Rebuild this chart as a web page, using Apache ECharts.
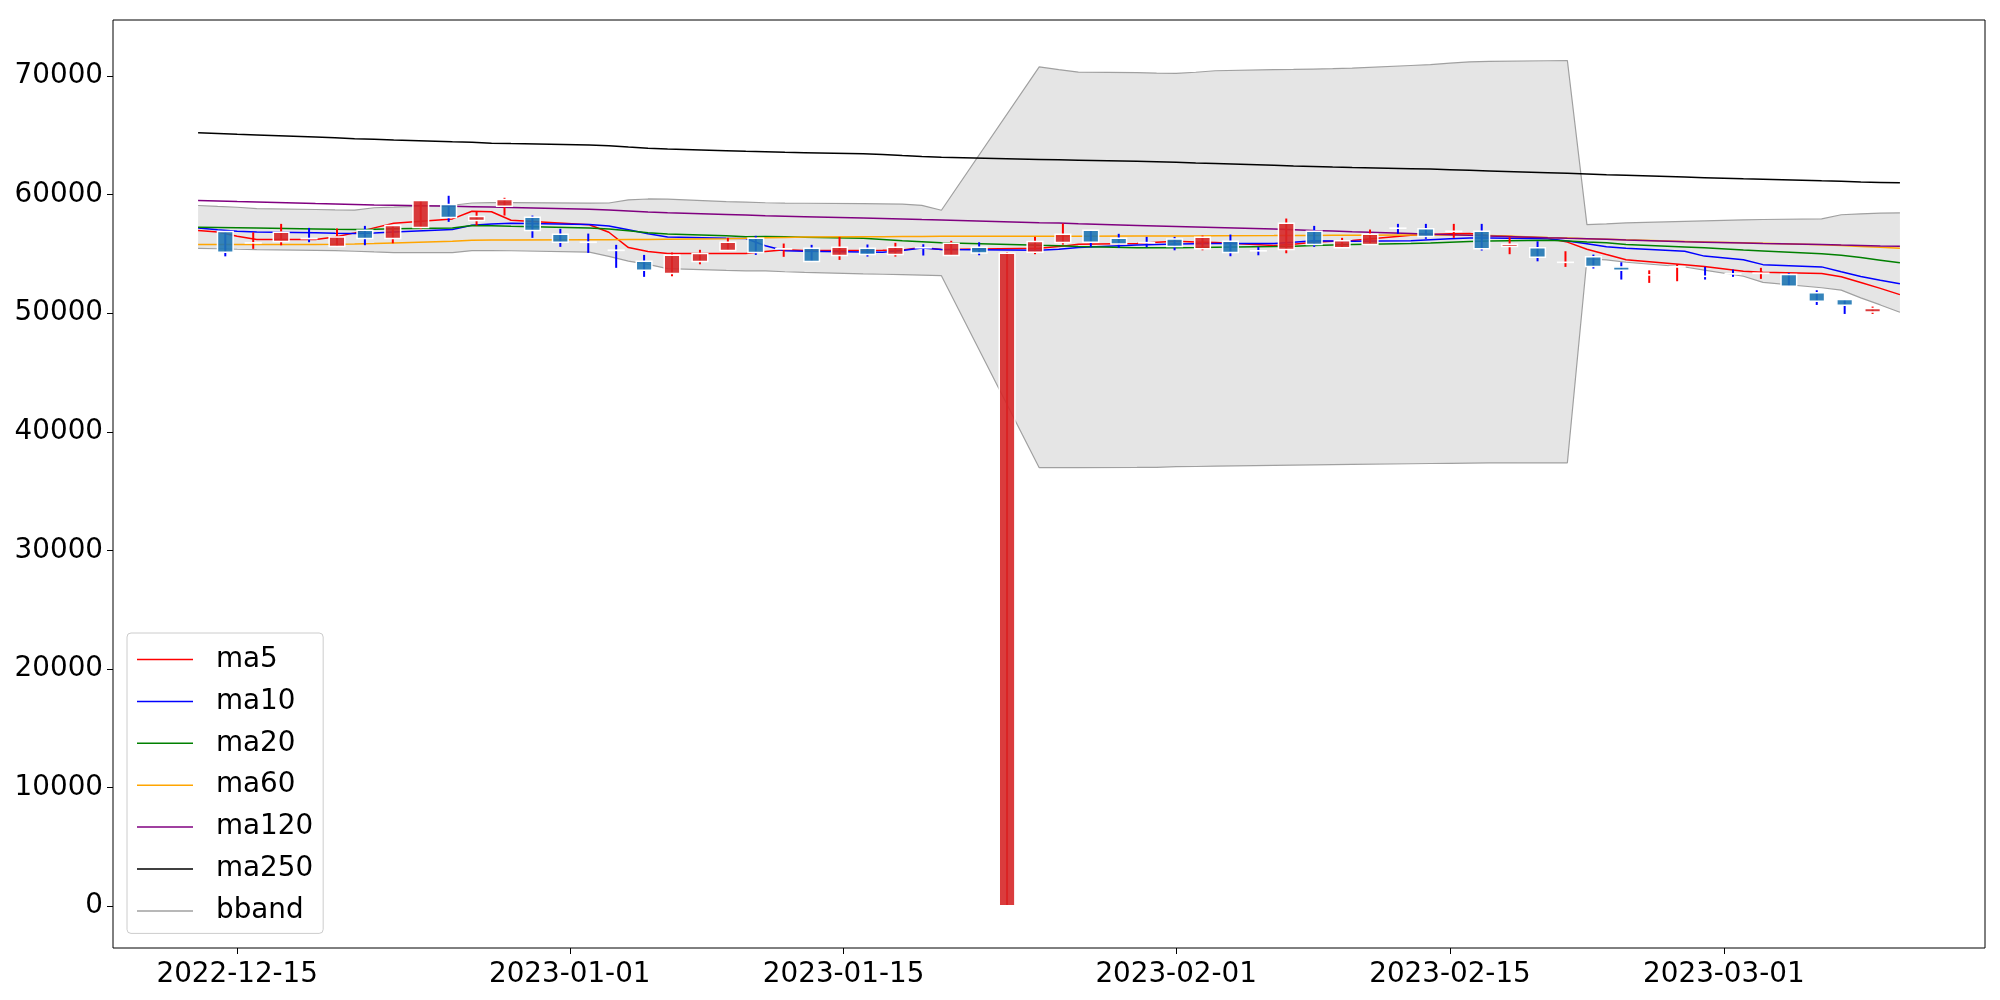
<!DOCTYPE html>
<html>
<head>
<meta charset="utf-8">
<title>candle chart</title>
<script src="https://cdn.jsdelivr.net/npm/echarts@6/dist/echarts.min.js"></script>
<style>
    html, body { margin: 0; padding: 0; background: #fff; }
    #chart { width: 2000px; height: 1000px; }
</style>
</head>
<body>
<div id="chart"></div>
<script>
    // trading days
    const dates = ['2022-12-13', '2022-12-14', '2022-12-15', '2022-12-16', '2022-12-19', '2022-12-20', '2022-12-21', '2022-12-22', '2022-12-23', '2022-12-26',
        '2022-12-27', '2022-12-28', '2022-12-29', '2023-01-02', '2023-01-03', '2023-01-04', '2023-01-05', '2023-01-06', '2023-01-09', '2023-01-10',
        '2023-01-11', '2023-01-12', '2023-01-13', '2023-01-16', '2023-01-17', '2023-01-18', '2023-01-19', '2023-01-20', '2023-01-25', '2023-01-26',
        '2023-01-27', '2023-01-30', '2023-01-31', '2023-02-01', '2023-02-02', '2023-02-03', '2023-02-06', '2023-02-07', '2023-02-08', '2023-02-09',
        '2023-02-10', '2023-02-13', '2023-02-14', '2023-02-15', '2023-02-16', '2023-02-17', '2023-02-20', '2023-02-21', '2023-02-22', '2023-02-23',
        '2023-02-24', '2023-02-27', '2023-02-28', '2023-03-02', '2023-03-03', '2023-03-06', '2023-03-07', '2023-03-08', '2023-03-09', '2023-03-10']

    // OHLC
    const opens = [56900, 55930, 56050, 56310, 55630, 57000, 56300, 57230, 59170, 57820,
        59030, 58100, 56670, 56000, 55320, 54380, 53350, 54360, 55290, 56320,
        55420, 55480, 54870, 55480, 54950, 55540, 54870, 55570, 0, 55140,
        55960, 57000, 56330, 55960, 56270, 55430, 56070, 55270, 55370, 56920,
        55520, 55790, 57180, 57120, 56910, 56920, 55630, 55520, 54290, 54760,
        53910, 53230, 53900, 53120, 53330, 53360, 53260, 51720, 51150, 50110]
    const highs = [56920, 56830, 57540, 57200, 57150, 57370, 57400, 59510, 59910, 58580,
        59740, 58240, 57120, 56720, 55770, 54920, 55120, 55350, 56360, 56530,
        55880, 55770, 56440, 55800, 55940, 55820, 56110, 55990, 55150, 56440,
        57570, 57000, 56700, 56440, 56440, 56550, 56640, 55600, 57990, 57370,
        56360, 57060, 57540, 57540, 57540, 57540, 56410, 56070, 55230, 54950,
        54300, 53620, 54130, 53910, 53680, 53830, 53400, 51940, 51150, 50560]
    const lows = [54800, 55430, 55730, 55990, 55630, 55740, 55900, 57100, 57710, 57400,
        58240, 56360, 55600, 55090, 53830, 53070, 53120, 54130, 55290, 54920,
        54760, 54360, 54500, 54780, 54780, 54870, 54870, 54890, 0, 54980,
        55790, 55600, 55520, 55570, 55310, 55310, 54810, 54890, 55060, 55600,
        55520, 55790, 56700, 56280, 56360, 55290, 54980, 54380, 53910, 53770,
        52840, 52560, 52700, 52840, 53070, 52900, 52270, 50700, 49940, 49940]
    const closes = [55140, 55940, 56830, 56290, 56440, 56300, 57400, 59510, 58070, 58160,
        59600, 56980, 55990, 55980, 55300, 53620, 54890, 55030, 55990, 55120,
        55440, 54360, 55570, 54950, 55570, 55520, 55900, 55090, 55060, 56050,
        56670, 55990, 55850, 55940, 55630, 56410, 55120, 55260, 57590, 55790,
        56110, 56670, 57170, 56470, 56920, 55430, 55820, 54720, 54300, 53940,
        53620, 53240, 53920, 53110, 53310, 53380, 52270, 51010, 50670, 50390]

    // moving averages
    const ma5 = [56990, 56860, 56500, 56220, 56220, 56430, 56780, 57200, 57600, 57960,
        58610, 58560, 57850, 57460, 56830, 55540, 55200, 55030, 55030, 55030,
        55200, 55360, 55290, 55300, 55310, 55330, 55540, 55370, 55490, 55620,
        55830, 55880, 55990, 56070, 56000, 55960, 55720, 55820, 55990, 56080,
        56130, 56580, 56650, 56700, 56720, 56560, 56330, 56000, 55400, 54950,
        54520, 54100, 53950, 53540, 53450, 53350, 53080, 52600, 52100, 51570]
    const ma10 = [57200, 57050, 56920, 56860, 56780, 56740, 56720, 56760, 56850, 57060,
        57430, 57530, 57600, 57480, 57360, 57050, 56700, 56440, 56330, 56300,
        55700, 55280, 55220, 55160, 55140, 55300, 55510, 55380, 55310, 55400,
        55550, 55750, 55800, 55840, 55860, 55880, 55880, 55990, 56120, 56100,
        56080, 56120, 56200, 56280, 56350, 56340, 56280, 56100, 55870, 55600,
        55480, 55230, 54820, 54520, 54100, 53910, 53500, 53100, 52780, 52480]
    const ma20 = [57260, 57240, 57220, 57200, 57110, 57080, 57060, 57080, 57120, 57200,
        57400, 57380, 57340, 57200, 57100, 56950, 56790, 56680, 56540, 56460,
        56480, 56450, 56420, 56320, 56220, 56110, 56030, 55950, 55740, 55700,
        55640, 55520, 55520, 55530, 55540, 55560, 55620, 55660, 55710, 55750,
        55790, 55880, 55930, 55990, 56050, 56090, 56160, 56100, 56020, 55950,
        55800, 55590, 55520, 55340, 55260, 55010, 54900, 54700, 54480, 54250]
    const ma60 = [55790, 55790, 55790, 55790, 55800, 55810, 55840, 55880, 55930, 56080,
        56150, 56170, 56180, 56200, 56210, 56220, 56230, 56250, 56290, 56320,
        56360, 56400, 56430, 56450, 56460, 56470, 56480, 56490, 56500, 56500,
        56500, 56510, 56510, 56520, 56520, 56530, 56550, 56560, 56560, 56570,
        56580, 56600, 56600, 56600, 56590, 56560, 56380, 56340, 56290, 56240,
        56190, 56060, 56020, 55940, 55900, 55780, 55710, 55640, 55560, 55480]
    const ma120 = [59510, 59470, 59420, 59380, 59250, 59210, 59170, 59130, 59110, 59020,
        58990, 58960, 58920, 58770, 58700, 58620, 58540, 58480, 58330, 58280,
        58230, 58190, 58150, 58030, 57990, 57950, 57900, 57860, 57630, 57610,
        57540, 57400, 57360, 57320, 57280, 57230, 57100, 57050, 56990, 56940,
        56880, 56720, 56670, 56620, 56570, 56520, 56360, 56320, 56290, 56250,
        56180, 56030, 55990, 55920, 55880, 55790, 55750, 55720, 55680, 55650]
    const ma250 = [65230, 65170, 65100, 65040, 64860, 64800, 64730, 64680, 64620, 64470,
        64430, 64350, 64310, 64190, 64130, 64020, 63920, 63850, 63710, 63660,
        63620, 63580, 63550, 63460, 63400, 63310, 63230, 63160, 62975, 62940,
        62910, 62820, 62780, 62740, 62680, 62630, 62490, 62430, 62390, 62340,
        62300, 62200, 62160, 62110, 62060, 62010, 61860, 61810, 61750, 61690,
        61640, 61490, 61440, 61340, 61300, 61170, 61130, 61080, 61040, 61000]

    // bollinger band
    const bbUpper = [59090, 59010, 58940, 58820, 58750, 58720, 58700, 58900, 58950, 59110,
        59300, 59340, 59330, 59290, 59300, 59560, 59640, 59620, 59420, 59370,
        59320, 59290, 59280, 59250, 59230, 59200, 59100, 58690, 70780, 70560,
        70350, 70300, 70260, 70240, 70330, 70460, 70560, 70570, 70600, 70630,
        70680, 70900, 70980, 71100, 71210, 71250, 71300, 71320, 57480, 57540,
        57620, 57750, 57790, 57870, 57910, 57960, 58310, 58390, 58440, 58470]
    const bbLower = [55480, 55440, 55400, 55370, 55310, 55280, 55230, 55170, 55120, 55120,
        55280, 55290, 55270, 55150, 54800, 54400, 54120, 53760, 53620, 53580,
        53570, 53500, 53450, 53320, 53290, 53250, 53210, 53170, 36970, 36970,
        36980, 36990, 37000, 37060, 37070, 37100, 37170, 37190, 37210, 37230,
        37250, 37300, 37320, 37340, 37360, 37370, 37380, 37380, 54580, 54500,
        54300, 53900, 53630, 53120, 52600, 52150, 51950, 51300, 50700, 50080]

    const xTickDates = ['2022-12-15', '2023-01-01', '2023-01-15', '2023-02-01', '2023-02-15', '2023-03-01']
    const yTicks = [0, 10000, 20000, 30000, 40000, 50000, 60000, 70000]

    const ts = dates.map((d) => Date.parse(d))
    const xTicks = xTickDates.map((d) => Date.parse(d))
    const xPad = (ts[ts.length - 1] - ts[0]) * 0.05
    const font = 'DejaVu Sans'

    const maLine = (name, values, color) => ({
        name,
        type: 'line',
        xAxisIndex: 0,
        yAxisIndex: 0,
        z: 3,
        symbol: 'none',
        data: values.map((v, i) => [ts[i], v]),
        lineStyle: { color, width: 1.5 },
        itemStyle: { color },
    })

    const bandLine = (values) => ({
        name: 'bband',
        type: 'line',
        xAxisIndex: 0,
        yAxisIndex: 0,
        z: 2,
        symbol: 'none',
        data: values.map((v, i) => [ts[i], v]),
        lineStyle: { color: '#a0a0a0', width: 1.2 },
        itemStyle: { color: '#a0a0a0' },
    })

    // grey fill between the band lines
    const bandFill = {
        type: 'custom',
        xAxisIndex: 0,
        yAxisIndex: 0,
        z: 1,
        silent: true,
        data: [[ts[0], bbLower[0]]],
        renderItem: (params, api) => {
            const pts = []
            bbUpper.forEach((v, i) => pts.push(api.coord([ts[i], v])))
            for (let i = bbLower.length - 1; i >= 0; i--) pts.push(api.coord([ts[i], bbLower[i]]))
            return { type: 'polygon', shape: { points: pts }, style: { fill: '#e5e5e5' } }
        },
    }

    // candles sit on an index axis, evenly spaced
    const candles = {
        type: 'custom',
        xAxisIndex: 1,
        yAxisIndex: 0,
        z: 5,
        clip: true,
        data: opens.map((o, i) => [i, o, closes[i], lows[i], highs[i]]),
        encode: { x: 0, y: [1, 2, 3, 4] },
        renderItem: (params, api) => {
            const i = api.value(0)
            const o = api.value(1)
            const c = api.value(2)
            const up = c > o
            const lo = api.coord([i, api.value(3)])
            const hi = api.coord([i, api.value(4)])
            const po = api.coord([i, o])
            const pc = api.coord([i, c])
            const w = api.size([0.56, 0])[0]
            const top = Math.min(po[1], pc[1])
            const bot = Math.max(po[1], pc[1])
            return {
                type: 'group',
                children: [
                    {
                        type: 'line',
                        shape: { x1: lo[0], y1: lo[1], x2: hi[0], y2: hi[1] },
                        style: { stroke: up ? '#ff0000' : '#0000ff', lineWidth: 2 },
                    },
                    {
                        type: 'rect',
                        shape: { x: po[0] - w / 2, y: top, width: w, height: bot - top },
                        style: {
                            fill: up ? 'rgba(214, 39, 40, 0.9)' : 'rgba(31, 119, 180, 0.9)',
                            stroke: '#ffffff',
                            lineWidth: 1.5,
                        },
                    },
                ],
            }
        },
    }

    const chart = echarts.init(document.getElementById('chart'))
    chart.setOption({
        animation: false,
        backgroundColor: '#ffffff',
        grid: {
            left: 113, right: 15, top: 20, bottom: 52,
            show: true, borderColor: '#000000', borderWidth: 1, backgroundColor: '#ffffff',
        },
        legend: {
            data: ['ma5', 'ma10', 'ma20', 'ma60', 'ma120', 'ma250', 'bband'],
            orient: 'vertical',
            left: 127,
            top: 633,
            icon: 'rect',
            itemWidth: 56,
            itemHeight: 1.5,
            itemGap: 9.9,
            padding: [10.5, 10, 6.5, 10],
            backgroundColor: 'rgba(255, 255, 255, 0.8)',
            borderColor: '#cccccc',
            borderWidth: 1,
            borderRadius: 4,
            textStyle: { fontFamily: font, fontSize: 27.8, color: '#000', lineHeight: 32, padding: [0, 0, 0, 18] },
        },
        xAxis: [
            {
                // dates as plain timestamps
                type: 'value',
                min: ts[0] - xPad,
                max: ts[ts.length - 1] + xPad,
                axisLine: { show: false, onZero: false },
                splitLine: { show: false },
                axisTick: {
                    show: true, length: 6, inside: false,
                    lineStyle: { color: '#000', width: 1 },
                    customValues: xTicks,
                },
                axisLabel: {
                    fontFamily: font, fontSize: 27.8, color: '#000', margin: 13,
                    customValues: xTicks,
                    formatter: (v) => new Date(v).toISOString().slice(0, 10),
                },
            },
            {
                type: 'value',
                show: false,
                min: -4.022,
                max: 63.026,
                axisLine: { onZero: false },
            },
        ],
        yAxis: {
            type: 'value',
            min: -3555,
            max: 74740,
            axisLine: { show: false, onZero: false },
            splitLine: { show: false },
            axisTick: {
                show: true, length: 6,
                lineStyle: { color: '#000', width: 1 },
                customValues: yTicks,
            },
            axisLabel: {
                fontFamily: font, fontSize: 27.8, color: '#000', margin: 10,
                customValues: yTicks,
                formatter: (v) => String(v),
            },
        },
        series: [
            bandFill,
            bandLine(bbUpper),
            bandLine(bbLower),
            maLine('ma5', ma5, '#ff0000'),
            maLine('ma10', ma10, '#0000ff'),
            maLine('ma20', ma20, '#008000'),
            maLine('ma60', ma60, '#ffa500'),
            maLine('ma120', ma120, '#800080'),
            maLine('ma250', ma250, '#000000'),
            candles,
        ],
    })
</script>
</body>
</html>
